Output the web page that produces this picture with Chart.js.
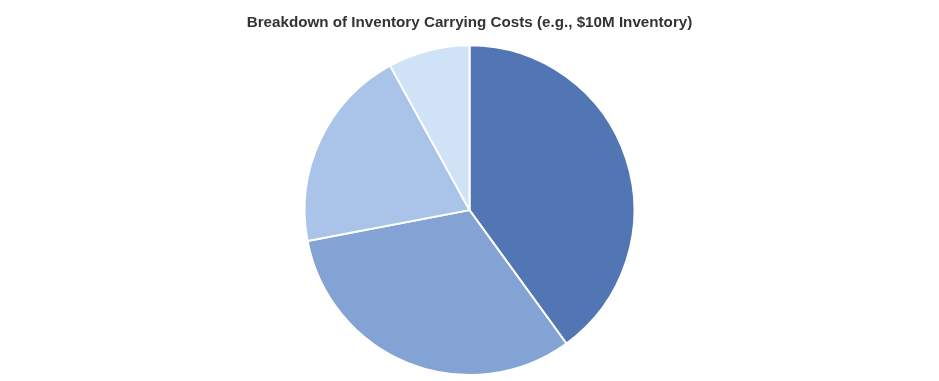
<!DOCTYPE html>
<html>
<head>
<meta charset="utf-8">
<script src="https://cdn.jsdelivr.net/npm/chart.js@4"></script>
<style>
  html, body { margin: 0; padding: 0; background: #fff; }
  #wrap { width: 939px; height: 381px; }
</style>
</head>
<body>
<div id="wrap"><canvas id="cost_chart"></canvas></div>
<script>
// Datos del gráfico
const costLabels = ['Capital Cost', 'Storage Cost', 'Service Cost', 'Risk Cost'];
const costShares = [40, 32, 20, 8];
const sliceColors = ['#5276B4', '#84A3D5', '#A9C4E8', '#CFE2F6'];

const ctxCost = document.getElementById('cost_chart').getContext('2d');
const costChart = new Chart(ctxCost, {
    type: 'pie',
    data: {
        labels: costLabels,
        datasets: [{
            data: costShares,
            backgroundColor: sliceColors,
            borderColor: '#ffffff',
            borderWidth: 2
        }]
    },
    options: {
        responsive: true,
        maintainAspectRatio: false,
        animation: false,
        layout: { padding: { top: 0, bottom: 5 } },
        plugins: {
            legend: { display: false },
            tooltip: { enabled: false },
            title: {
                display: true,
                text: 'Breakdown of Inventory Carrying Costs (e.g., $10M Inventory)',
                color: '#333333',
                font: { family: 'Liberation Sans, Arial, sans-serif', size: 15.2, weight: 'bold' },
                padding: { top: 14, bottom: 12 }
            }
        }
    }
});
</script>
</body>
</html>
